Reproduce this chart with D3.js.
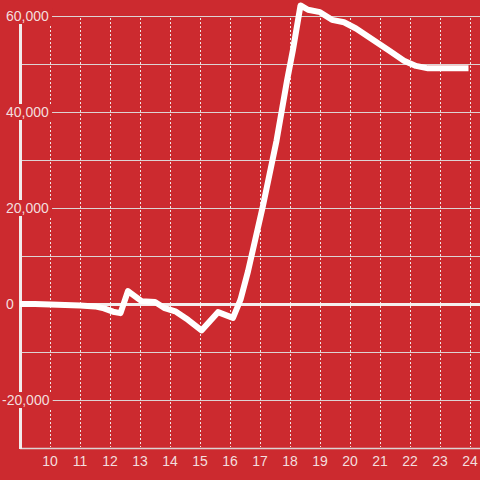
<!DOCTYPE html>
<html>
<head>
<meta charset="utf-8">
<script src="https://cdn.jsdelivr.net/npm/d3@7"></script>
<style>
  html, body { margin: 0; padding: 0; background: #cc2a2f; }
  svg { display: block; font-family: "Liberation Sans", Arial, sans-serif; }
</style>
</head>
<body>
<div id="chart"></div>
<script>
// hours of the day and the running value at each
var hours = [9.0, 9.5, 10.0, 10.5, 11.0, 11.5, 11.8, 12.1, 12.35, 12.6, 13.05, 13.5, 13.8,
  14.2, 14.6, 15.05, 15.6, 16.1, 16.35, 16.6, 17.1, 17.55, 17.9, 18.1, 18.35, 18.6,
  19.0, 19.4, 19.8, 20.2, 20.7, 21.3, 21.8, 22.2, 22.6, 23.0, 23.5, 23.95];
var values = [0, 0, -100, -200, -300, -500, -900, -1600, -1900, 2700, 600, 400, -800,
  -1600, -3300, -5500, -1700, -2900, 900, 6800, 20500, 34000, 46500, 53000, 62200, 61300,
  60800, 59200, 58700, 57400, 55300, 52800, 50700, 49600, 49100, 49100, 49100, 49100];
var xTicks = [10, 11, 12, 13, 14, 15, 16, 17, 18, 19, 20, 21, 22, 23, 24];
var yGrid = [-20000, -10000, 0, 10000, 20000, 30000, 40000, 50000, 60000];
var yLabels = [-20000, 0, 20000, 40000, 60000];

var w = 480, h = 480;
var bg = '#cc2a2f', txt = '#f3dede';

var svg = d3.select('#chart').append('svg')
  .attr('width', w)
  .attr('height', h);

svg.append('rect').attr('width', w).attr('height', h).attr('fill', bg);

var x = d3.scaleLinear().domain([9, 25]).range([20, 500]);
var y = d3.scaleLinear().domain([-30000, 60000]).range([448, 16]);

// dotted vertical grid
svg.append('g').selectAll('line')
  .data(xTicks)
  .enter().append('line')
  .attr('x1', function(d){ return Math.round(x(d)) + 0.5; })
  .attr('x2', function(d){ return Math.round(x(d)) + 0.5; })
  .attr('y1', 18)
  .attr('y2', 447)
  .attr('stroke', '#f0e4e4')
  .attr('stroke-width', 1)
  .attr('stroke-dasharray', '2,2');

// horizontal grid
svg.append('g').selectAll('line')
  .data(yGrid)
  .enter().append('line')
  .attr('x1', 20)
  .attr('x2', w)
  .attr('y1', function(d){ return Math.round(y(d)) + 0.5; })
  .attr('y2', function(d){ return Math.round(y(d)) + 0.5; })
  .attr('stroke', d => d === 0 ? '#f4eeee' : '#ddd3d3')
  .attr('stroke-width', d => d === 0 ? 3 : 1);

// x axis line
svg.append('line')
  .attr('x1', 20).attr('x2', w)
  .attr('y1', 448.5).attr('y2', 448.5)
  .attr('stroke', '#ddd3d3').attr('stroke-width', 1.5);

// y axis line
svg.append('line')
  .attr('x1', 20.5).attr('x2', 20.5)
  .attr('y1', 16).attr('y2', 449)
  .attr('stroke', '#f2ecec').attr('stroke-width', 3);

// y labels with a background patch
var fmt = d3.format(',');
var yl = svg.append('g').selectAll('g')
  .data(yLabels)
  .enter().append('g')
  .attr('transform', function(d){ return 'translate(0,' + y(d) + ')'; });
yl.append('text')
  .attr('x', d => d < 0 ? 2 : 6)
  .attr('y', 5)
  .attr('fill', txt)
  .attr('font-size', 14)
  .text(function(d){ return fmt(d).replace('−', '-'); })
  .each(function(){
    var b = this.getBBox();
    d3.select(this.parentNode).insert('rect', 'text')
      .attr('x', b.x - 1)
      .attr('y', -8)
      .attr('width', b.width + 4)
      .attr('height', 16)
      .attr('fill', bg);
  });

// x labels
svg.append('g').selectAll('text')
  .data(xTicks)
  .enter().append('text')
  .attr('x', function(d){ return x(d); })
  .attr('y', 466)
  .attr('text-anchor', 'middle')
  .attr('fill', txt)
  .attr('font-size', 14)
  .text(function(d){ return d; });

// the series
var line = d3.line()
  .x(function(d, i){ return x(hours[i]); })
  .y(function(d){ return y(d); });

svg.append('path')
  .datum(values)
  .attr('d', line)
  .attr('fill', 'none')
  .attr('stroke', '#ffffff')
  .attr('stroke-width', 6)
  .attr('stroke-linejoin', 'round');
</script>
</body>
</html>
